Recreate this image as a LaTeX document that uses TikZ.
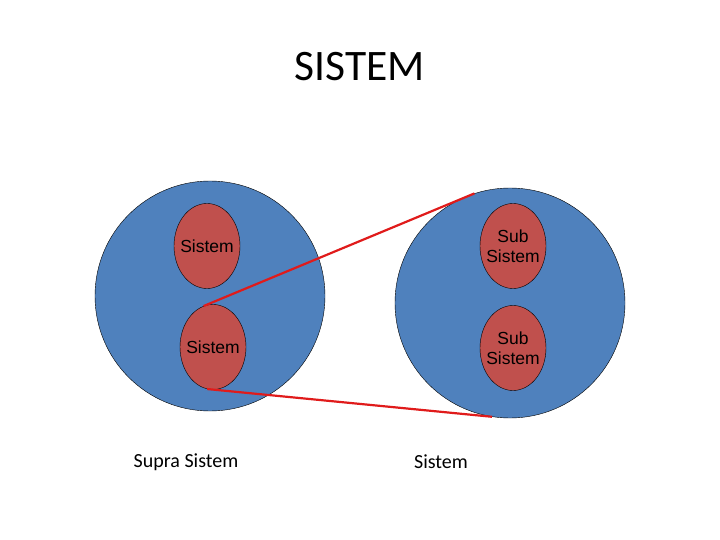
\documentclass[tikz,border=0pt]{standalone}
\usepackage{fontspec}
\setmainfont{Carlito}
\newfontfamily\arialfont{Liberation Sans}
\usetikzlibrary{shapes.geometric,positioning}

\definecolor{sysblue}{HTML}{4F81BD}
\definecolor{sysred}{HTML}{C0504D}
\definecolor{linkred}{HTML}{E01B1B}

\tikzset{
  bigsys/.style={circle, draw=black, thin, fill=sysblue, minimum size=230pt, inner sep=0pt},
  smallsys/.style={ellipse, draw=black, thin, fill=sysred, minimum width=66pt, minimum height=85pt,
    inner xsep=-12pt, inner ysep=0pt, align=center, font=\arialfont\fontsize{17.5}{20}\selectfont},
  link/.style={linkred, line width=2.2pt},
  caption/.style={font=\fontsize{20}{24}\selectfont}
}

\begin{document}
\begin{tikzpicture}[x=1pt,y=-1pt]
\useasboundingbox (0,0) rectangle (720,540);
%\draw[thin,gray!40] (0,0) grid[step=20] (720,540);

 \node[font=\fontsize{43.5}{48}\selectfont] (title) at (360,67) {SISTEM};

% supra system on the left
 \node[bigsys] (supra) at (210,296) {};
 \node[smallsys] (sysA) at (207,246) {Sistem};
 \node[smallsys] (sysB) at (213,347) {Sistem};

% the system, zoomed in
 \node[bigsys] (sys) at (510,303) {};
 \node[smallsys] (subA) at (513,246) {Sub\\Sistem};
 \node[smallsys] (subB) at (513,348) {Sub\\Sistem};

 \draw[link] (sysB.103)--(sys.108);
 \draw[link] (sysB.262)--(sys.261);

 \node[caption] (lblsupra) at (186,462) {Supra Sistem};
 \node[caption] (lblsys) at (441,462) {Sistem};
\end{tikzpicture}
\end{document}
